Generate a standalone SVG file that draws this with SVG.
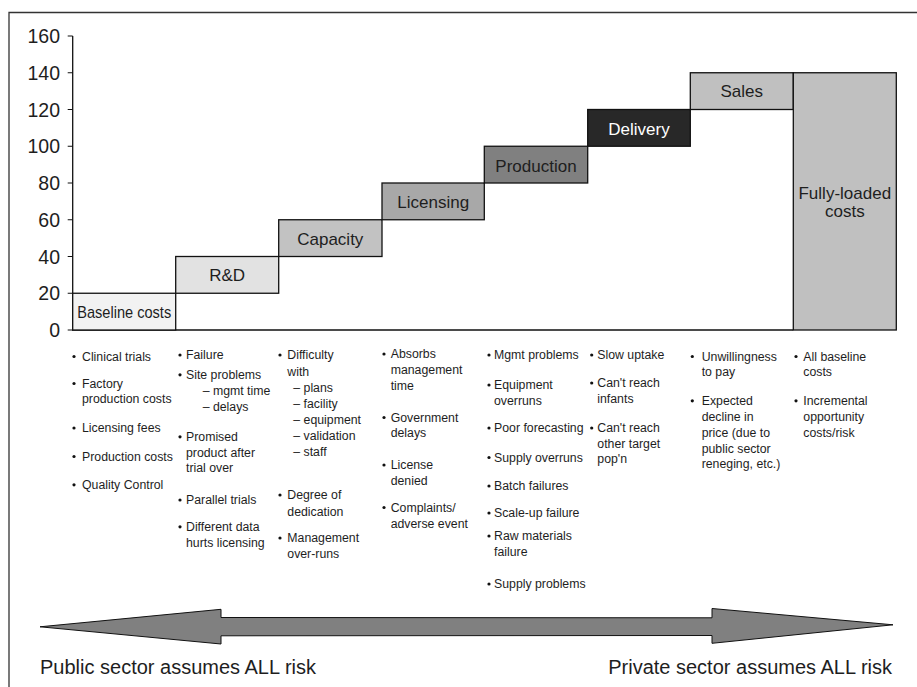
<svg xmlns="http://www.w3.org/2000/svg" width="917" height="687" viewBox="0 0 917 687">
<style>
text{font-family:"Liberation Sans",Arial,sans-serif;fill:#1e1e1e}
.ax{font-size:19.5px;text-anchor:end}
.lbl{font-size:17px;text-anchor:middle}
.b{font-size:12.3px}
.risk{font-size:20px}
.bar{stroke:#111;stroke-width:1.3}
.dot{fill:#111}
</style>
<rect width="917" height="687" fill="#fff"/>
<path d="M9,687 V12.5 H917" fill="none" stroke="#333" stroke-width="1.3"/>

<g id="axis">
<path d="M72.7,36 V330 H793.3" fill="none" stroke="#111" stroke-width="1.3"/>
<path d="M67.7,36H72.7M67.7,72.75H72.7M67.7,109.5H72.7M67.7,146.25H72.7M67.7,183H72.7M67.7,219.75H72.7M67.7,256.5H72.7M67.7,293.25H72.7M67.7,330H72.7" stroke="#111" stroke-width="1.2"/>
<text class="ax" x="60" y="43">160</text>
<text class="ax" x="60" y="79.8">140</text>
<text class="ax" x="60" y="116.5">120</text>
<text class="ax" x="60" y="153.3">100</text>
<text class="ax" x="60" y="190">80</text>
<text class="ax" x="60" y="226.8">60</text>
<text class="ax" x="60" y="263.5">40</text>
<text class="ax" x="60" y="300.3">20</text>
<text class="ax" x="60" y="337">0</text>
</g>

<g id="baseline">
<rect class="bar" x="72.7" y="293.25" width="103" height="36.75" fill="#f2f2f2"/>
<text class="lbl" x="124.2" y="318.3" font-size="15.5" textLength="94" lengthAdjust="spacingAndGlyphs">Baseline costs</text>
</g>
<g id="rnd">
<rect class="bar" x="175.7" y="256.5" width="103" height="36.75" fill="#e2e2e2"/>
<text class="lbl" x="227.2" y="281">R&amp;D</text>
</g>
<g id="capacity">
<rect class="bar" x="278.7" y="219.75" width="103.3" height="36.75" fill="#c2c2c2"/>
<text class="lbl" x="330.3" y="245">Capacity</text>
</g>
<g id="licensing">
<rect class="bar" x="382" y="183" width="102.3" height="36.75" fill="#a8a8a8"/>
<text class="lbl" x="433.2" y="208.3">Licensing</text>
</g>
<g id="production">
<rect class="bar" x="484.3" y="146.25" width="103.4" height="36.75" fill="#808080"/>
<text class="lbl" x="536" y="171.7">Production</text>
</g>
<g id="delivery">
<rect class="bar" x="587.7" y="109.5" width="102.6" height="36.75" fill="#282828"/>
<text class="lbl" x="639" y="135" style="fill:#fff">Delivery</text>
</g>
<g id="sales">
<rect class="bar" x="690.3" y="72.75" width="103" height="36.75" fill="#c0c0c0"/>
<text class="lbl" x="741.8" y="97.3">Sales</text>
</g>
<g id="fully-loaded">
<rect class="bar" x="793.3" y="72.75" width="103" height="257.25" fill="#c0c0c0"/>
<text class="lbl" x="844.8" y="199">Fully-loaded</text>
<text class="lbl" x="844.8" y="217.3">costs</text>
</g>

<g id="col-baseline">
<circle class="dot" cx="74" cy="356.5" r="1.6"/>
<circle class="dot" cx="74" cy="383.5" r="1.6"/>
<circle class="dot" cx="74" cy="428" r="1.6"/>
<circle class="dot" cx="74" cy="456.5" r="1.6"/>
<circle class="dot" cx="74" cy="484.8" r="1.6"/>
<text class="b"><tspan x="82" y="360.7">Clinical trials</tspan><tspan x="82" y="387.7">Factory</tspan><tspan x="82" y="403.3">production costs</tspan><tspan x="82" y="432.3">Licensing fees</tspan><tspan x="82" y="460.7">Production costs</tspan><tspan x="82" y="489">Quality Control</tspan></text>
</g>

<g id="col-rnd">
<circle class="dot" cx="180" cy="355" r="1.6"/>
<circle class="dot" cx="180" cy="374.8" r="1.6"/>
<circle class="dot" cx="180" cy="436.8" r="1.6"/>
<circle class="dot" cx="180" cy="500" r="1.6"/>
<circle class="dot" cx="180" cy="526.8" r="1.6"/>
<text class="b"><tspan x="186" y="359.3">Failure</tspan><tspan x="186" y="379">Site problems</tspan><tspan x="202.7" y="395">– mgmt time</tspan><tspan x="202.7" y="411">– delays</tspan><tspan x="186" y="441">Promised</tspan><tspan x="186" y="456.7">product after</tspan><tspan x="186" y="472.3">trial over</tspan><tspan x="186" y="504.3">Parallel trials</tspan><tspan x="186" y="531">Different data</tspan><tspan x="186" y="546.7">hurts licensing</tspan></text>
</g>

<g id="col-capacity">
<circle class="dot" cx="280" cy="355" r="1.6"/>
<circle class="dot" cx="280" cy="495" r="1.6"/>
<circle class="dot" cx="280" cy="538" r="1.6"/>
<text class="b"><tspan x="287.3" y="359.3">Difficulty</tspan><tspan x="287.3" y="375.7">with</tspan><tspan x="293.3" y="391.7">– plans</tspan><tspan x="293.3" y="407.7">– facility</tspan><tspan x="293.3" y="424">– equipment</tspan><tspan x="293.3" y="440">– validation</tspan><tspan x="293.3" y="456">– staff</tspan><tspan x="287.3" y="499.3">Degree of</tspan><tspan x="287.3" y="515.7">dedication</tspan><tspan x="287.3" y="542.3">Management</tspan><tspan x="287.3" y="558.3">over-runs</tspan></text>
</g>

<g id="col-licensing">
<circle class="dot" cx="384" cy="354" r="1.6"/>
<circle class="dot" cx="384" cy="417.5" r="1.6"/>
<circle class="dot" cx="384" cy="465" r="1.6"/>
<circle class="dot" cx="384" cy="507.5" r="1.6"/>
<text class="b"><tspan x="390.7" y="358.3">Absorbs</tspan><tspan x="390.7" y="374">management</tspan><tspan x="390.7" y="390">time</tspan><tspan x="390.7" y="421.7">Government</tspan><tspan x="390.7" y="436.7">delays</tspan><tspan x="390.7" y="469.3">License</tspan><tspan x="390.7" y="485">denied</tspan><tspan x="390.7" y="511.7">Complaints/</tspan><tspan x="390.7" y="528.3">adverse event</tspan></text>
</g>

<g id="col-production">
<circle class="dot" cx="489" cy="355" r="1.6"/>
<circle class="dot" cx="489" cy="385" r="1.6"/>
<circle class="dot" cx="489" cy="428" r="1.6"/>
<circle class="dot" cx="489" cy="457.5" r="1.6"/>
<circle class="dot" cx="489" cy="486" r="1.6"/>
<circle class="dot" cx="489" cy="513" r="1.6"/>
<circle class="dot" cx="489" cy="536" r="1.6"/>
<circle class="dot" cx="489" cy="584" r="1.6"/>
<text class="b"><tspan x="494" y="359">Mgmt problems</tspan><tspan x="494" y="389">Equipment</tspan><tspan x="494" y="405">overruns</tspan><tspan x="494" y="432.3">Poor forecasting</tspan><tspan x="494" y="461.7">Supply overruns</tspan><tspan x="494" y="490">Batch failures</tspan><tspan x="494" y="517.3">Scale-up failure</tspan><tspan x="494" y="540">Raw materials</tspan><tspan x="494" y="556">failure</tspan><tspan x="494" y="588.3">Supply problems</tspan></text>
</g>

<g id="col-delivery">
<circle class="dot" cx="591.7" cy="355" r="1.6"/>
<circle class="dot" cx="591.7" cy="383" r="1.6"/>
<circle class="dot" cx="591.7" cy="428" r="1.6"/>
<text class="b"><tspan x="597.3" y="359">Slow uptake</tspan><tspan x="597.3" y="387.3">Can't reach</tspan><tspan x="597.3" y="403.3">infants</tspan><tspan x="597.3" y="432.3">Can't reach</tspan><tspan x="597.3" y="448.3">other target</tspan><tspan x="597.3" y="463.3">pop'n</tspan></text>
</g>

<g id="col-sales">
<circle class="dot" cx="692.3" cy="356.5" r="1.6"/>
<circle class="dot" cx="692.3" cy="400.8" r="1.6"/>
<text class="b"><tspan x="701.7" y="360.7">Unwillingness</tspan><tspan x="701.7" y="376">to pay</tspan><tspan x="701.7" y="405">Expected</tspan><tspan x="701.7" y="421">decline in</tspan><tspan x="701.7" y="436.7">price (due to</tspan><tspan x="701.7" y="452.7">public sector</tspan><tspan x="701.7" y="468.3">reneging, etc.)</tspan></text>
</g>

<g id="col-fully-loaded">
<circle class="dot" cx="796" cy="356.5" r="1.6"/>
<circle class="dot" cx="796" cy="400.8" r="1.6"/>
<text class="b"><tspan x="803.3" y="360.7">All baseline</tspan><tspan x="803.3" y="376">costs</tspan><tspan x="803.3" y="405">Incremental</tspan><tspan x="803.3" y="421">opportunity</tspan><tspan x="803.3" y="436.7">costs/risk</tspan></text>
</g>

<g id="connectors">
<polygon points="40,626.8 221,609.3 221,617.5 712,617.8 712,608.5 893,624.8 712,643.3 712,635.5 221,635.8 221,644" fill="#808080" stroke="#111" stroke-width="1"/>
</g>

<g id="risk-labels">
<text class="risk" x="40" y="674">Public sector assumes ALL risk</text>
<text class="risk" x="892" y="674" text-anchor="end">Private sector assumes ALL risk</text>
</g>
</svg>
